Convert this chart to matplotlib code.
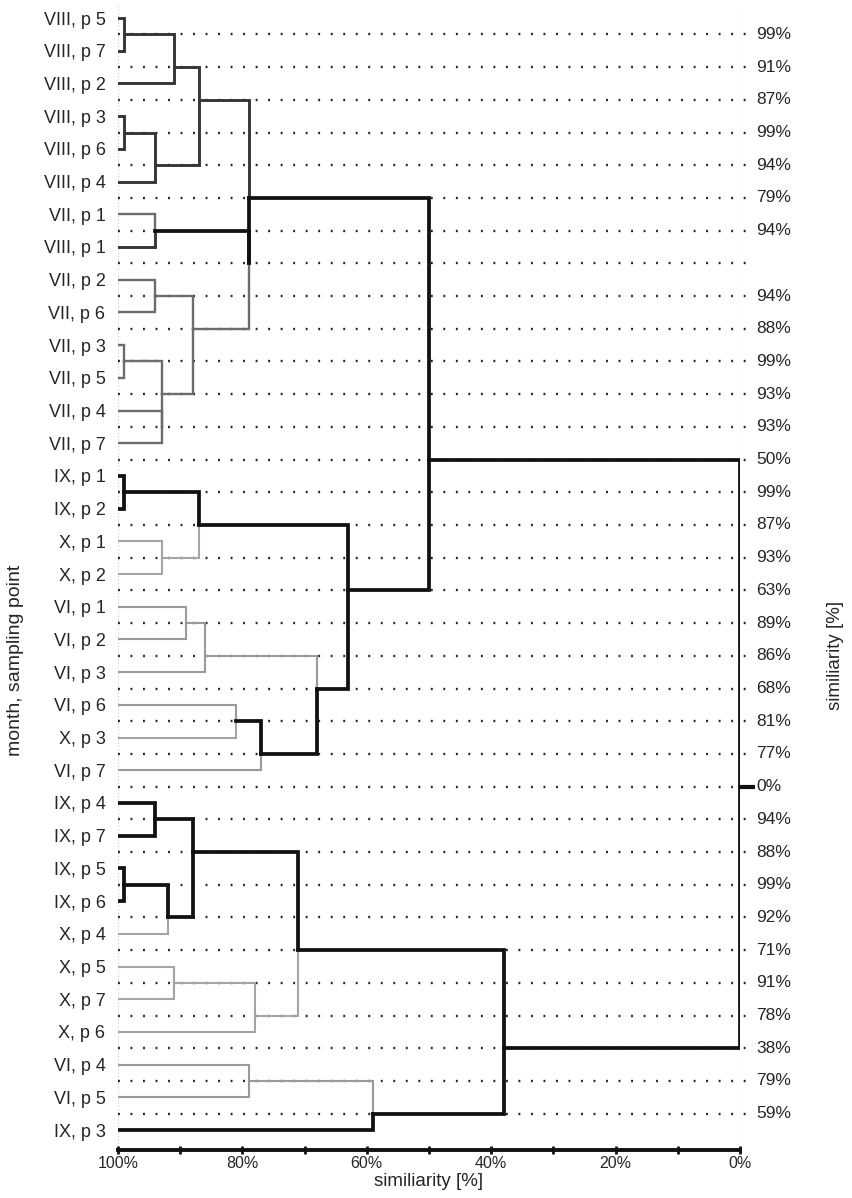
import matplotlib
matplotlib.use('Agg')
import matplotlib.pyplot as plt
import numpy as np

plt.rcParams['font.family'] = ['Liberation Sans', 'DejaVu Sans']

# leaves top to bottom
leaf_labels = ['VIII, p 5', 'VIII, p 7', 'VIII, p 2', 'VIII, p 3', 'VIII, p 6', 'VIII, p 4',
               'VII, p 1', 'VIII, p 1', 'VII, p 2', 'VII, p 6', 'VII, p 3', 'VII, p 5',
               'VII, p 4', 'VII, p 7', 'IX, p 1', 'IX, p 2', 'X, p 1', 'X, p 2',
               'VI, p 1', 'VI, p 2', 'VI, p 3', 'VI, p 6', 'X, p 3', 'VI, p 7',
               'IX, p 4', 'IX, p 7', 'IX, p 5', 'IX, p 6', 'X, p 4', 'X, p 5',
               'X, p 7', 'X, p 6', 'VI, p 4', 'VI, p 5', 'IX, p 3']

# similarity of the join placed in the gap below each leaf
gap_levels = [99, 91, 87, 99, 94, 79, 94, 79, 94, 88, 99, 93, 93, 50, 99, 87, 93,
              63, 89, 86, 68, 81, 77, 0, 94, 88, 99, 92, 71, 91, 78, 38, 79, 59]
gap_labels = ['99%', '91%', '87%', '99%', '94%', '79%', '94%', '', '94%', '88%',
              '99%', '93%', '93%', '50%', '99%', '87%', '93%', '63%', '89%', '86%',
              '68%', '81%', '77%', '0%', '94%', '88%', '99%', '92%', '71%', '91%',
              '78%', '38%', '79%', '59%']

x_ticks = [100, 80, 60, 40, 20, 0]

month_color = {'VIII': '#363636', 'VII': '#6c6c6c', 'IX': '#111111',
               'X': '#a4a4a4', 'VI': '#9a9a9a'}
month_width = {'VIII': 2.1, 'VII': 1.7, 'IX': 2.7, 'X': 1.5, 'VI': 1.5}
mixed_color = '#111111'
mixed_width = 2.7

months = [s.split(',')[0] for s in leaf_labels]
n = len(leaf_labels)
txt = '#262626'

fig = plt.figure(figsize=(8.52, 11.98), dpi=100)
ax = fig.add_axes([118 / 852, 1 - 1150 / 1198, (740 - 118) / 852, (1150 - 3) / 1198])
ax.set_xlim(100, 0)
ax.set_ylim(34.61, -0.46)


def style(ms):
    if len(ms) == 1:
        m = next(iter(ms))
        return month_color[m], month_width[m]
    return mixed_color, mixed_width


def build(lo, hi):
    # returns (x, y, set of months)
    if lo == hi:
        return 100, lo, {months[lo]}
    sub = gap_levels[lo:hi]
    g = lo + int(np.argmin(sub))
    lev = gap_levels[g]
    yn = g + 0.5
    kids = [build(lo, g), build(g + 1, hi)]
    allm = set()
    for cx, cy, cm in kids:
        c, w = style(cm)
        ax.plot([cx, lev, lev], [cy, cy, yn], color=c, lw=w,
                solid_joinstyle='miter', solid_capstyle='projecting', zorder=3)
        allm |= cm
    return lev, yn, allm


# dotted guide lines
for g in range(n - 1):
    ax.plot([100, -2.2], [g + 0.5, g + 0.5], color='#222222', lw=1.7,
            linestyle=(0, (0.8, 4.5)), clip_on=False, zorder=1)
    if gap_labels[g]:
        ax.text(-2.6, g + 0.5, gap_labels[g], ha='left', va='center',
                fontsize=12.5, color=txt, clip_on=False)

# faint frame lines
ax.axvline(100, color='#cccccc', lw=0.8, linestyle=(0, (1, 2)), zorder=0)
ax.axvline(0, color='#dddddd', lw=0.8, zorder=0)

rx, ry, rm = build(0, n - 1)
ax.plot([0, -2.4], [ry, ry], color=mixed_color, lw=3.0, clip_on=False,
        solid_capstyle='butt', zorder=3)

ax.set_yticks(range(n))
ax.set_yticklabels(leaf_labels, fontsize=13, color=txt)
ax.tick_params(axis='y', length=0, pad=9)

ax.set_xticks(range(0, 101, 10), minor=True)
ax.set_xticks(x_ticks)
ax.set_xticklabels([f'{v}%' for v in x_ticks], fontsize=11.5, color=txt)
ax.tick_params(axis='x', which='both', direction='inout', length=6, width=2,
               color='#111111', pad=1)

for side in ['top', 'right', 'left']:
    ax.spines[side].set_visible(False)
ax.spines['bottom'].set_linewidth(2.8)
ax.spines['bottom'].set_color('#111111')

ax.set_xlabel('similiarity [%]', fontsize=13.5, color=txt, labelpad=2)
fig.text(16 / 852, 1 - 660 / 1198, 'month, sampling point', rotation=90, ha='center',
         va='center', fontsize=14, color=txt)
fig.text(836 / 852, 1 - 655 / 1198, 'similiarity [%]', rotation=90, ha='center',
         va='center', fontsize=13.5, color=txt)

fig.savefig('out.png', dpi=100)
